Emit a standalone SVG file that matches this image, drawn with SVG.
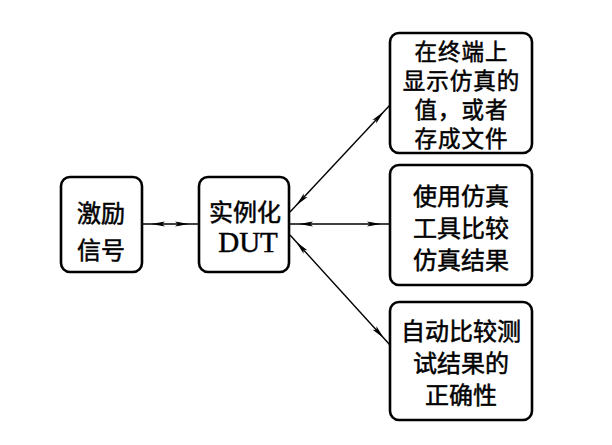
<svg xmlns="http://www.w3.org/2000/svg" width="612" height="445" viewBox="0 0 612 445">
<style>
.box{fill:#fff;stroke:#000;stroke-width:2.6}
.t{font-family:"Noto Sans CJK SC","Noto Sans CJK JP",sans-serif;font-size:24px;fill:#000;stroke:#000;stroke-width:0.5;text-anchor:middle;dominant-baseline:central}
.s{font-size:22.5px;letter-spacing:1px}
.d{font-family:"Liberation Serif",serif;font-size:29px;fill:#000;stroke:#000;stroke-width:0.5;text-anchor:middle}
.c{stroke:#000;stroke-width:1.4;fill:none;marker-start:url(#ah);marker-end:url(#ah)}
</style>
<defs>
<marker id="ah" markerUnits="userSpaceOnUse" viewBox="0 0 14 6" markerWidth="14" markerHeight="6" refX="23" refY="3" orient="auto-start-reverse" overflow="visible">
<path d="M0,0.4 L14,3 L0,5.6 L3,3 z" fill="#000"/>
</marker>
</defs>
<rect width="612" height="445" fill="#fff"/>
<g id="connectors">
<line class="c" x1="142" y1="224" x2="198" y2="224"/>
<line class="c" x1="290" y1="212" x2="390" y2="105"/>
<line class="c" x1="290" y1="224" x2="390" y2="224"/>
<line class="c" x1="290" y1="235" x2="390" y2="345"/>
</g>
<g id="stimulus">
<rect class="box" x="61" y="177" width="81" height="95" rx="9"/>
<text class="t"><tspan x="101" y="211">激励</tspan><tspan x="101" y="248">信号</tspan></text>
</g>
<g id="dut">
<rect class="box" x="199" y="177" width="90" height="95" rx="9"/>
<text class="t" x="245" y="210">实例化</text>
<text class="d" x="248" y="252">DUT</text>
</g>
<g id="display">
<rect class="box" x="390" y="33" width="142" height="120" rx="9"/>
<text class="t s"><tspan x="461.5" y="49.5">在终端上</tspan><tspan x="461.5" y="78.5">显示仿真的</tspan><tspan x="461.5" y="107.5">值，或者</tspan><tspan x="461.5" y="136.5">存成文件</tspan></text>
</g>
<g id="compare-tool">
<rect class="box" x="390" y="165" width="142" height="120" rx="9"/>
<text class="t"><tspan x="461" y="194">使用仿真</tspan><tspan x="461" y="226">工具比较</tspan><tspan x="461" y="258">仿真结果</tspan></text>
</g>
<g id="auto-compare">
<rect class="box" x="390" y="302" width="142" height="118" rx="9"/>
<text class="t"><tspan x="461" y="329">自动比较测</tspan><tspan x="461" y="361">试结果的</tspan><tspan x="461" y="393">正确性</tspan></text>
</g>
</svg>
